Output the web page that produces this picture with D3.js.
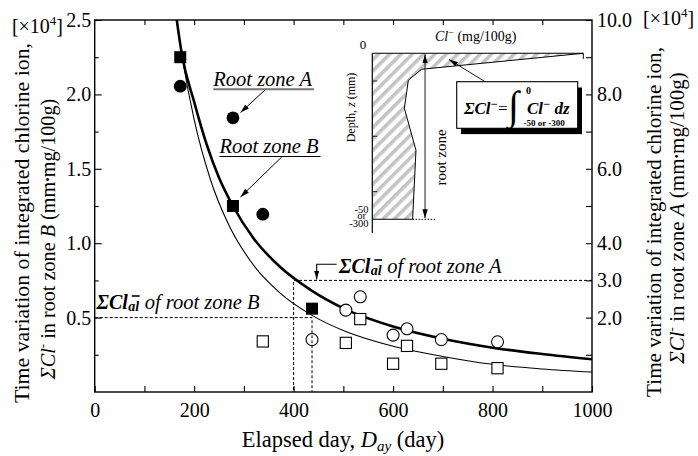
<!DOCTYPE html>
<html><head><meta charset="utf-8">
<script src="https://cdn.jsdelivr.net/npm/d3@7"></script>
<style>
body{margin:0;background:#fff}
svg{display:block}
svg text{font-family:"Liberation Serif","Tinos","DejaVu Serif","Noto Serif",serif !important;fill:#000}
</style>
</head><body><script>
// ---------------- data ----------------
const daysAFilled = [172, 278, 338];
const zoneAFilled = [8.22, 7.37, 4.78];            // right axis, x10^4
const daysAOpen   = [437, 505, 534, 600, 628, 697, 810];
const zoneAOpen   = [1.41, 2.20, 2.56, 1.53, 1.70, 1.41, 1.35];
const daysBFilled = [172, 278, 437];
const zoneBFilled = [2.25, 1.25, 0.56];            // left axis, x10^4
const daysBOpen   = [338, 505, 534, 600, 628, 697, 810];
const zoneBOpen   = [0.34, 0.33, 0.49, 0.19, 0.31, 0.19, 0.16];
const fitDaysA = [164, 175, 200, 225, 250, 278, 320, 373, 437, 505, 600, 700, 800, 900, 1000];
const fitA     = [10.1, 9.1, 7.8, 6.66, 5.76, 5.0, 4.12, 3.36, 2.72, 2.22, 1.76, 1.43, 1.19, 1.02, 0.88];
const fitDaysB = [163, 175, 200, 233, 270, 320, 373, 437, 505, 600, 700, 800, 900, 1000];
const fitB     = [2.54, 2.27, 1.83, 1.425, 1.12, 0.85, 0.665, 0.515, 0.406, 0.307, 0.239, 0.186, 0.155, 0.134];
const xTickLabels = [0, 200, 400, 600, 800, 1000];
const leftTickLabels = [0.5, 1.0, 1.5, 2.0, 2.5];
const rightTickLabels = [2, 3, 4, 6, 8, 10];
const alLevelB = 0.5, alDayB = 437;
const alLevelA = 3.0, alDayA = 400;
// inset schematic profile (relative Cl, relative depth)
const profileCl    = [1.0, 0.234, 0.171, 0.152, 0.207, 0.191];
const profileDepth = [0, 0.096, 0.161, 0.331, 0.584, 1.0];

// ---------------- layout ----------------
const W = 698, H = 456;
const L = 94.7, R = 592, T = 20, B = 392;
const x = d3.scaleLinear([0, 1000], [L, R]);
const yL = d3.scaleLinear([0, 2.5], [B, T]);
const yR = d3.scaleLinear([0, 10], [B, T]);

const svg = d3.select("body").append("svg").attr("width", W).attr("height", H)
  .attr("font-family", '"Liberation Serif", serif');
const defs = svg.append("defs");
defs.append("clipPath").attr("id", "plotclip").append("rect")
  .attr("x", L).attr("y", T).attr("width", R - L).attr("height", B - T);
defs.append("marker").attr("id", "ah").attr("viewBox", "0 0 10 6")
  .attr("refX", 10).attr("refY", 3).attr("markerWidth", 9).attr("markerHeight", 5.5)
  .attr("markerUnits", "userSpaceOnUse").attr("orient", "auto-start-reverse")
  .append("path").attr("d", "M0,0L10,3L0,6Z").attr("fill", "#000");
const pat = defs.append("pattern").attr("id", "hatch").attr("patternUnits", "userSpaceOnUse")
  .attr("width", 8).attr("height", 8).attr("patternTransform", "rotate(45)");
pat.append("rect").attr("x", 0).attr("y", 0).attr("width", 3.6).attr("height", 8).attr("fill", "#c4c4c4");

// ---------------- axes ----------------
function ax(gen, tr) {
  const g = svg.append("g").attr("transform", tr).call(gen);
  g.attr("font-family", null).attr("font-size", null);
  g.select(".domain").remove();
  g.selectAll("line").attr("stroke", "#000").attr("stroke-width", 1.1);
  g.selectAll("text").style("font-size", "20px");
  return g;
}
// bottom
ax(d3.axisBottom(x).tickValues(d3.range(0, 1001, 100)).tickSize(-6).tickPadding(10.5)
  .tickFormat(d => xTickLabels.includes(d) ? d : ""), `translate(0,${B})`);
// top
ax(d3.axisTop(x).tickValues(d3.range(100, 1000, 100)).tickSize(-5).tickFormat(""), `translate(0,${T})`);
// left major / minor
ax(d3.axisLeft(yL).tickValues(leftTickLabels).tickSize(-7).tickPadding(4)
  .tickFormat(d3.format(".1f")), `translate(${L},0)`)
  .selectAll("text").attr("x", -3.5);
ax(d3.axisLeft(yL).tickValues(d3.range(0.25, 2.5, 0.5)).tickSize(-4).tickFormat(""), `translate(${L},0)`);
// right
ax(d3.axisRight(yR).tickValues(d3.range(1, 11, 1)).tickSize(-6)
  .tickFormat(d => rightTickLabels.includes(d) ? d3.format(".1f")(d) : ""), `translate(${R},0)`)
  .selectAll("text").attr("x", 5);

// frame
svg.append("rect").attr("x", L).attr("y", T).attr("width", R - L).attr("height", B - T)
  .attr("fill", "none").attr("stroke", "#000").attr("stroke-width", 1.4);

// x10^4 labels
function mult(xp, yp, anchor) {
  const t = svg.append("text").attr("x", xp).attr("y", yp).attr("text-anchor", anchor).style("font-size", "20px");
  t.append("tspan").text("[×10");
  t.append("tspan").attr("dy", -8).style("font-size", "13px").text("4");
  t.append("tspan").attr("dy", 8).text("]");
}
mult(63, 33, "end");
mult(643, 25, "start");

// ---------------- axis titles ----------------
svg.append("text").attr("transform", "translate(28.7,223) rotate(-90)").attr("text-anchor", "middle")
  .style("font-size", "21.8px").text("Time variation of integrated chlorine ion,");
svg.append("text").attr("transform", "translate(660.5,222) rotate(-90)").attr("text-anchor", "middle")
  .style("font-size", "21.2px").text("Time variation of integrated chlorine ion,");
function inner(tr, zone, fs) {
  const t = svg.append("text").attr("transform", tr).attr("text-anchor", "middle").style("font-size", fs);
  t.append("tspan").style("font-style", "italic").text("ΣCl");
  t.append("tspan").attr("dy", -8).style("font-size", "13px").text("-");
  t.append("tspan").attr("dy", 8).text("  in root zone ");
  t.append("tspan").style("font-style", "italic").text(zone);
  t.append("tspan").text("  (mm");
  t.append("tspan").style("font-size", "13px").attr("dy", -3).text("•");
  t.append("tspan").attr("dy", 3).text("mg/100g)");
}
inner("translate(55.4,239) rotate(-90)", "B", "20.2px");
inner("translate(684,218) rotate(-90)", "A", "21px");

const xt = svg.append("text").attr("x", 343).attr("y", 447).attr("text-anchor", "middle").style("font-size", "22.5px");
xt.append("tspan").text("Elapsed day, ");
xt.append("tspan").style("font-style", "italic").text("D");
xt.append("tspan").style("font-style", "italic").style("font-size", "15px").attr("dy", 4).text("ay");
xt.append("tspan").attr("dy", -4).text(" (day)");

// ---------------- curves ----------------
const plot = svg.append("g").attr("clip-path", "url(#plotclip)");
const lineA = d3.line().x(d => x(d[0])).y(d => yR(d[1])).curve(d3.curveMonotoneX);
const lineB = d3.line().x(d => x(d[0])).y(d => yL(d[1])).curve(d3.curveMonotoneX);
plot.append("path").attr("d", lineB(d3.zip(fitDaysB, fitB))).attr("fill", "none")
  .attr("stroke", "#000").attr("stroke-width", 1.1);
plot.append("path").attr("d", lineA(d3.zip(fitDaysA, fitA))).attr("fill", "none")
  .attr("stroke", "#000").attr("stroke-width", 2.6);

// ---------------- markers ----------------
const S = 12;
plot.selectAll(".bf").data(d3.zip(daysBFilled, zoneBFilled)).join("rect")
  .attr("x", d => x(d[0]) - S / 2).attr("y", d => yL(d[1]) - S / 2).attr("width", S).attr("height", S).attr("fill", "#000");
plot.selectAll(".bo").data(d3.zip(daysBOpen, zoneBOpen)).join("rect")
  .attr("x", d => x(d[0]) - 5.6).attr("y", d => yL(d[1]) - 5.6).attr("width", 11.2).attr("height", 11.2)
  .attr("fill", "#fff").attr("stroke", "#000").attr("stroke-width", 1.1);
plot.selectAll(".af").data(d3.zip(daysAFilled, zoneAFilled)).join("circle")
  .attr("cx", d => x(d[0])).attr("cy", d => yR(d[1])).attr("r", 6.4).attr("fill", "#000");
plot.selectAll(".ao").data(d3.zip(daysAOpen, zoneAOpen)).join("circle")
  .attr("cx", d => x(d[0])).attr("cy", d => yR(d[1])).attr("r", 6).attr("fill", "#fff")
  .attr("stroke", "#000").attr("stroke-width", 1.1);

// ---------------- dashed reference lines ----------------
function dl(pts) {
  svg.append("path").attr("d", d3.line()(pts)).attr("stroke", "#000").attr("stroke-width", 1)
    .attr("stroke-dasharray", "3,2").attr("fill", "none");
}
dl([[x(0), yL(alLevelB)], [x(alDayB), yL(alLevelB)], [x(alDayB), yL(0)]]);
dl([[x(1000), yR(alLevelA)], [x(alDayA), yR(alLevelA)], [x(alDayA), yR(0)]]);

// ---------------- annotations ----------------
function alLabel(xp, yp, zone) {
  const t1 = svg.append("text").attr("x", xp).attr("y", yp).style("font-size", "20px")
    .style("font-style", "italic").style("font-weight", "bold").text("ΣCl");
  const w1 = t1.node().getComputedTextLength();
  const t2 = svg.append("text").attr("x", xp + w1 + 0.5).attr("y", yp + 2).style("font-size", "14px")
    .style("font-style", "italic").style("font-weight", "bold").text("al");
  const w2 = t2.node().getComputedTextLength();
  svg.append("line").attr("x1", xp + w1 + 4).attr("x2", xp + w1 + w2 + 1).attr("y1", yp - 13).attr("y2", yp - 13)
    .attr("stroke", "#000").attr("stroke-width", 1.6);
  svg.append("text").attr("x", xp + w1 + w2 + 6).attr("y", yp).style("font-size", "20.5px")
    .style("font-style", "italic").text("of root zone " + zone);
}
alLabel(96.5, 309, "B");
alLabel(339, 273, "A");
svg.append("path").attr("d", "M336.7,264.3H316.7V279.5").attr("fill", "none").attr("stroke", "#000")
  .attr("stroke-width", 1.1).attr("marker-end", "url(#ah)");

function rz(xp, yp, zone, ulColor, ulW) {
  const t = svg.append("text").attr("x", xp).attr("y", yp).style("font-size", "20.5px").style("font-style", "italic")
    .text("Root zone " + zone);
  const w = t.node().getComputedTextLength();
  svg.append("line").attr("x1", xp).attr("x2", xp + w + 2).attr("y1", yp + 3.8).attr("y2", yp + 3.8)
    .attr("stroke", ulColor).attr("stroke-width", ulW);
}
rz(213.3, 85.5, "A", "#777", 2);
rz(219.5, 152.7, "B", "#000", 1.2);
svg.append("line").attr("x1", 265).attr("y1", 90).attr("x2", 240.5).attr("y2", 112.5)
  .attr("stroke", "#000").attr("stroke-width", 1).attr("marker-end", "url(#ah)");
svg.append("line").attr("x1", 281.7).attr("y1", 157).attr("x2", 240.5).attr("y2", 197)
  .attr("stroke", "#000").attr("stroke-width", 1).attr("marker-end", "url(#ah)");

// ---------------- inset ----------------
const ix = d3.scaleLinear([0, 1], [372.3, 583.3]);
const iz = d3.scaleLinear([0, 1], [53.3, 219.3]);
const prof = d3.zip(profileCl, profileDepth).map(d => [ix(d[0]), iz(d[1])]);
const poly = [[ix(0), iz(0)]].concat(prof, [[ix(0), iz(1)]]);
svg.append("path").attr("d", d3.line()(poly) + "Z").attr("fill", "url(#hatch)");
svg.append("path").attr("d", d3.line()(prof)).attr("fill", "none").attr("stroke", "#000").attr("stroke-width", 1);
svg.append("line").attr("x1", ix(0)).attr("x2", ix(1)).attr("y1", iz(0)).attr("y2", iz(0)).attr("stroke", "#000").attr("stroke-width", 1.1);
svg.append("line").attr("x1", ix(1)).attr("x2", ix(1)).attr("y1", iz(0)).attr("y2", iz(0) + 5.5).attr("stroke", "#000").attr("stroke-width", 1);
svg.append("line").attr("x1", ix(0)).attr("x2", ix(profileCl[profileCl.length - 1])).attr("y1", iz(1)).attr("y2", iz(1)).attr("stroke", "#000").attr("stroke-width", 1.1);
svg.append("line").attr("x1", ix(profileCl[profileCl.length - 1])).attr("x2", ix(0.305)).attr("y1", iz(1)).attr("y2", iz(1))
  .attr("stroke", "#000").attr("stroke-width", 1).attr("stroke-dasharray", "1.5,1.5");
svg.append("line").attr("x1", ix(0)).attr("x2", ix(0)).attr("y1", iz(0)).attr("y2", 233).attr("stroke", "#000").attr("stroke-width", 1.2);
[1 / 6, 0.5, 5 / 6].forEach(f => svg.append("line").attr("x1", ix(0)).attr("x2", ix(0) + 5).attr("y1", iz(f)).attr("y2", iz(f))
  .attr("stroke", "#000").attr("stroke-width", 0.8));
svg.append("line").attr("x1", ix(0.25)).attr("x2", ix(0.25)).attr("y1", iz(0) + 1).attr("y2", iz(1) - 1)
  .attr("stroke", "#000").attr("stroke-width", 0.9).attr("marker-start", "url(#ah)").attr("marker-end", "url(#ah)");
svg.append("text").attr("transform", "translate(446,157.5) rotate(-90)").attr("text-anchor", "middle")
  .style("font-size", "15px").text("root zone");
const dz = svg.append("text").attr("transform", "translate(355,107.5) rotate(-90)").attr("text-anchor", "middle").style("font-size", "12px");
dz.append("tspan").text("Depth, ");
dz.append("tspan").style("font-style", "italic").text("z");
dz.append("tspan").text(" (mm)");
svg.append("text").attr("x", 363).attr("y", 48.5).attr("text-anchor", "middle").style("font-size", "13px").text("0");
const dl3 = svg.append("text").attr("x", 368.5).attr("y", 212.5).attr("text-anchor", "end").style("font-size", "10.5px");
dl3.append("tspan").attr("x", 368.5).text("-50");
dl3.append("tspan").attr("x", 366).attr("dy", 6.8).text("or");
dl3.append("tspan").attr("x", 368.5).attr("dy", 7.6).text("-300");
const cl = svg.append("text").attr("x", 435).attr("y", 41).style("font-size", "14px");
cl.append("tspan").style("font-style", "italic").text("Cl");
cl.append("tspan").attr("dy", -5).style("font-size", "10px").text("−");
cl.append("tspan").attr("dy", 5).text(" (mg/100g)");

// formula box
svg.append("rect").attr("x", 461).attr("y", 87.5).attr("width", 121).attr("height", 46.6).attr("fill", "#000");
svg.append("rect").attr("x", 456.7).attr("y", 81.7).attr("width", 121).attr("height", 46.6)
  .attr("fill", "#fff").attr("stroke", "#000").attr("stroke-width", 1.1);
svg.append("line").attr("x1", 484.3).attr("y1", 81.2).attr("x2", 449).attr("y2", 59.5)
  .attr("stroke", "#000").attr("stroke-width", 0.9).attr("marker-end", "url(#ah)");
const f1 = svg.append("text").attr("x", 464).attr("y", 114).style("font-size", "17px").style("font-weight", "bold").style("font-style", "italic");
f1.append("tspan").text("ΣCl");
f1.append("tspan").attr("dy", -6).style("font-size", "12px").text("−");
f1.append("tspan").attr("dy", 6).style("font-style", "normal").style("font-weight", "normal").text("=");
svg.append("text").attr("x", 508).attr("y", 118.5).style("font-size", "40px").text("∫");
const f2 = svg.append("text").attr("x", 527).attr("y", 114).style("font-size", "17px").style("font-weight", "bold").style("font-style", "italic");
f2.append("tspan").text("Cl");
f2.append("tspan").attr("dy", -6).style("font-size", "12px").text("−");
f2.append("tspan").attr("dy", 6).text(" dz");
const lim = svg.append("text").style("font-weight", "bold");
lim.append("tspan").attr("x", 526).attr("y", 94).style("font-size", "10px").text("0");
lim.append("tspan").attr("x", 523.5).attr("y", 126).style("font-size", "9px").text("-50 or -300");
</script></body></html>
